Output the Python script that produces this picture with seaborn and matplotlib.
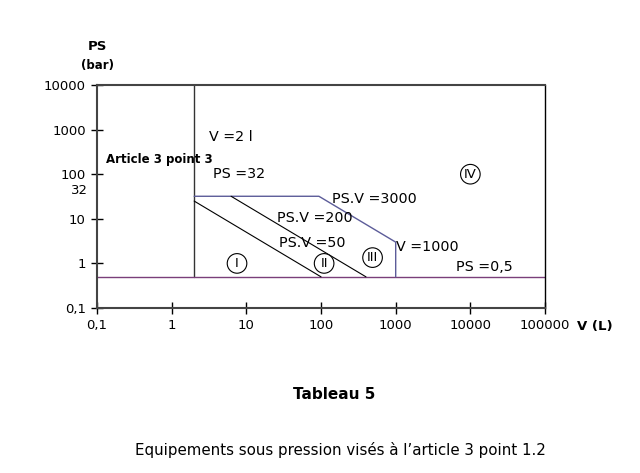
import matplotlib
matplotlib.use("Agg")
import matplotlib.pyplot as plt
import seaborn as sns

# ==========================================
# Data: limits of the categories (V in litres, PS in bar)
# ==========================================
v_ticks = [0.1, 1, 10, 100, 1000, 10000, 100000]
v_tick_labels = ["0,1", "1", "10", "100", "1000", "10000", "100000"]
ps_ticks = [0.1, 1, 10, 100, 1000, 10000]
ps_tick_labels = ["0,1", "1", "10", "100", "1000", "10000"]

# vertical limit V = 2 l
v2_v = [2, 2]
v2_ps = [0.5, 10000]
# horizontal limit PS = 0,5 bar
ps05_v = [0.1, 100000]
ps05_ps = [0.5, 0.5]
# outer border: PS = 32, PS.V = 3000, V = 1000
border_v = [2, 93.75, 1000, 1000]
border_ps = [32, 32, 3, 0.5]
# PS.V = 50
psv50_v = [2, 100]
psv50_ps = [25, 0.5]
# PS.V = 200
psv200_v = [6.25, 400]
psv200_ps = [32, 0.5]

# labels (text, V, PS)
line_labels = [
    ("V =2 l", 3.2, 700),
    ("PS =32", 3.6, 100),
    ("PS.V =3000", 140, 28),
    ("PS.V =200", 26, 10.5),
    ("PS.V =50", 27, 2.8),
    ("V =1000", 1000, 2.3),
    ("PS =0,5", 6500, 0.85),
]
zones = [("I", 7.5, 1.0), ("II", 110, 1.0), ("III", 490, 1.35), ("IV", 10000, 100)]

sns.set_theme(style="white")
plt.rcParams["font.family"] = ["DejaVu Sans"]
plt.rcParams["text.color"] = "black"

fig = plt.figure(figsize=(6.4, 4.73), dpi=100)
ax = fig.add_axes([0.1516, 0.3488, 0.70, 0.4715])

kw = dict(sort=False, estimator=None, ax=ax)
sns.lineplot(x=v2_v, y=v2_ps, color="#333333", lw=1.0, **kw)
sns.lineplot(x=ps05_v, y=ps05_ps, color="#7a3f7a", lw=1.0, **kw)
sns.lineplot(x=border_v, y=border_ps, color="#5c5c99", lw=1.0, **kw)
sns.lineplot(x=psv50_v, y=psv50_ps, color="black", lw=0.8, **kw)
sns.lineplot(x=psv200_v, y=psv200_ps, color="black", lw=0.8, **kw)

ax.set_xscale("log")
ax.set_yscale("log")
ax.set_xlim(0.1, 100000)
ax.set_ylim(0.1, 10000)
ax.set_xticks(v_ticks)
ax.set_xticklabels(v_tick_labels)
ax.set_yticks(ps_ticks)
ax.set_yticklabels(ps_tick_labels)
ax.minorticks_off()
ax.tick_params(axis="both", which="major", direction="inout", length=8, width=1,
               labelsize=9.5, colors="black", pad=4, bottom=True, left=True)

for side in ["left", "bottom", "top"]:
    ax.spines[side].set_color("#444444")
    ax.spines[side].set_linewidth(1.5)
ax.spines["right"].set_color("black")
ax.spines["right"].set_linewidth(1.0)

for txt, v, ps in line_labels:
    ax.text(v, ps, txt, fontsize=10.3, va="center", ha="left")

for txt, v, ps in zones:
    ax.text(v, ps, txt, fontsize=9.5, va="center", ha="center",
            bbox=dict(boxstyle="circle,pad=0.25", fc="white", ec="black", lw=0.8))

ax.text(0.13, 210, "Article 3 point 3", fontsize=8.5, fontweight="bold", va="center", ha="left")
ax.text(0.075, 44, "32", fontsize=9.5, va="center", ha="right", clip_on=False)

# axis titles
fig.text(97 / 640, 1 - 47 / 473, "PS", fontsize=9.5, fontweight="bold", ha="center", va="center")
fig.text(97 / 640, 1 - 66 / 473, "(bar)", fontsize=8.5, fontweight="bold", ha="center", va="center")
fig.text(577 / 640, 1 - 326 / 473, "V (L)", fontsize=9.5, fontweight="bold", ha="left", va="center")

fig.text(334 / 640, 1 - 394 / 473, "Tableau 5", fontsize=11, fontweight="bold", ha="center", va="center")
fig.text(340 / 640, 1 - 450 / 473, "Equipements sous pression visés à l\u2019article 3 point 1.2",
         fontsize=10.8, ha="center", va="center")

fig.savefig("out.png", dpi=100)
